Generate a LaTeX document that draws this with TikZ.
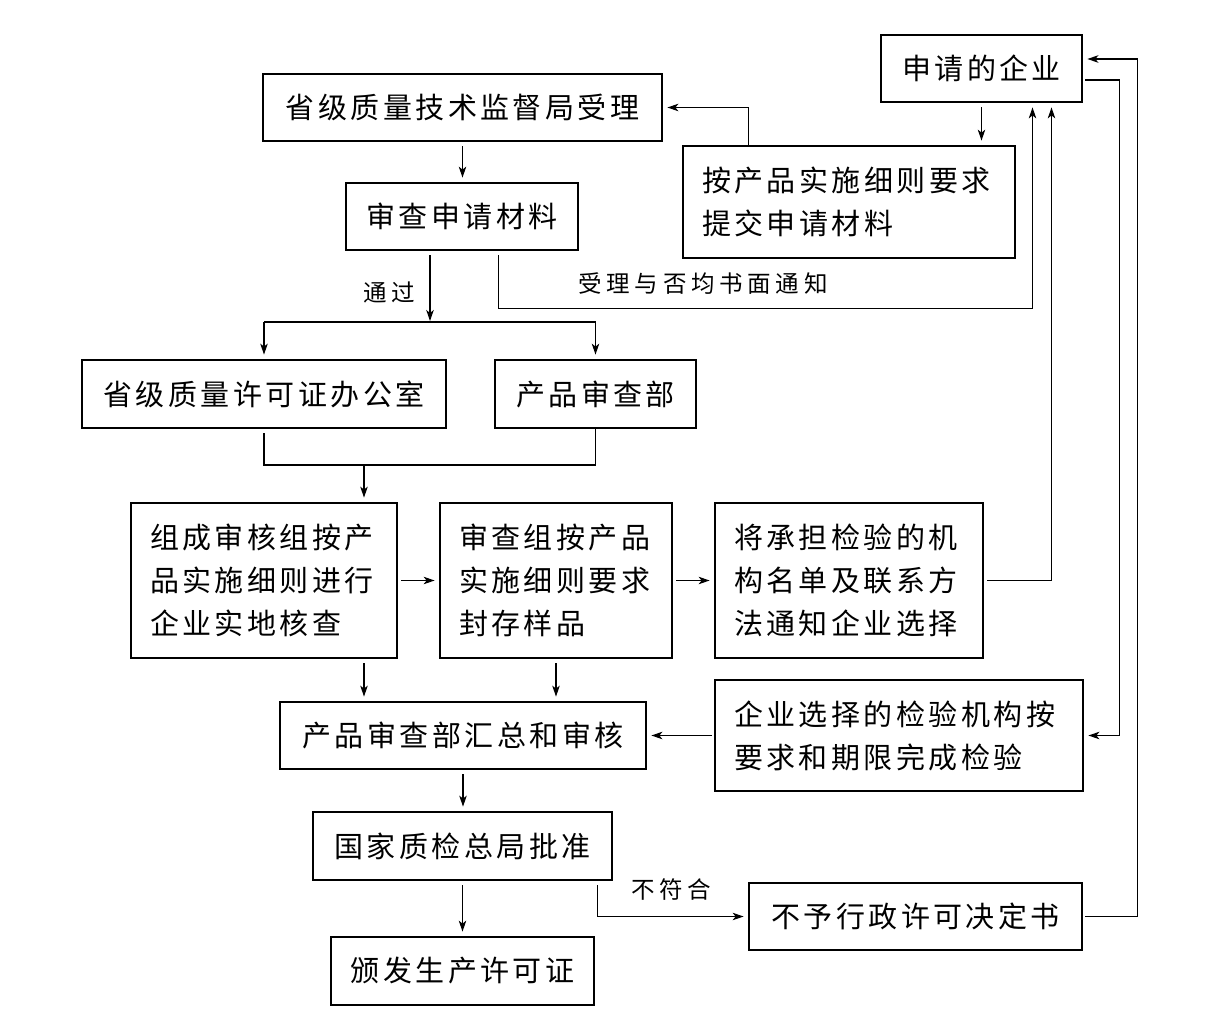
\documentclass[tikz,border=0pt]{standalone}
\usepackage{fontspec}
\newfontfamily\cjkbox[LetterSpace=12]{Noto Sans CJK SC}
\newfontfamily\cjklab[LetterSpace=20]{Noto Sans CJK SC}
\usetikzlibrary{arrows.meta,calc}
\begin{document}
\begin{tikzpicture}[x=1pt,y=-1pt,
  box/.style={draw, line width=2.8pt, inner sep=0pt, font={\cjkbox\fontsize{29pt}{43pt}\selectfont}},
  mbox/.style={box, align=left, inner xsep=19pt},
  lab/.style={font={\cjklab\fontsize{23.5pt}{26pt}\selectfont}, inner sep=0pt},
  conn/.style={line width=1.1pt},
  arr/.style={conn, -{Stealth[length=11pt,width=7.5pt,inset=3pt]}, shorten >=4pt},
]
\fill[white] (0,0) rectangle (1215,1020);
\useasboundingbox (0,0) rectangle (1215,1020);

% nodes
\node[box, minimum width=201pt, minimum height=67pt] (A) at (981.5,68.5) {申请的企业};
\node[box, minimum width=399pt, minimum height=67pt] (B) at (462.5,107.5) {省级质量技术监督局受理};
\node[mbox, text width=294pt, minimum height=112pt] (C) at (849,202) {按产品实施细则要求\\提交申请材料};
\node[box, minimum width=232pt, minimum height=67pt] (D) at (462,216.5) {审查申请材料};
\node[box, minimum width=364pt, minimum height=68pt] (E) at (264,394) {省级质量许可证办公室};
\node[box, minimum width=201pt, minimum height=68pt] (F) at (595.5,394) {产品审查部};
\node[mbox, text width=228pt, minimum height=155pt] (G) at (264,580.5) {组成审核组按产\\品实施细则进行\\企业实地核查};
\node[mbox, text width=194pt, minimum height=155pt] (H) at (556,580.5) {审查组按产品\\实施细则要求\\封存样品};
\node[mbox, text width=230pt, minimum height=155pt] (I) at (849,580.5) {将承担检验的机\\构名单及联系方\\法通知企业选择};
\node[box, minimum width=366pt, minimum height=67pt] (J) at (463,735.5) {产品审查部汇总和审核};
\node[mbox, text width=330pt, minimum height=111pt] (K) at (899,735.5) {企业选择的检验机构按\\要求和期限完成检验};
\node[box, minimum width=299pt, minimum height=68pt] (L) at (462.5,846) {国家质检总局批准};
\node[box, minimum width=333pt, minimum height=67pt] (M) at (915.5,916.5) {不予行政许可决定书};
\node[box, minimum width=263pt, minimum height=68pt] (N) at (462.5,971) {颁发生产许可证};

% labels
\node[lab] (l1) at (703,284) {受理与否均书面通知};
\node[lab] (l2) at (389,292) {通过};
\node[lab] (l3) at (671,890) {不符合};

% coordinates
\coordinate (br) at (430,322);
\coordinate (mg) at (364,465);

% connectors
\draw[arr, shorten <=4pt] (A.south) -- (A.south |- C.north);
\draw[arr] ($(C.north west)+(67,0)$) |- (B.east);
\draw[arr, shorten <=4pt] (B.south) -- (B.south |- D.north);
\draw[arr, shorten <=4pt] ($(D.south east)+(-81,0)$) -- ++(0,57) -| ($(A.south)+(51,0)$);
\draw[arr, shorten <=4pt, shorten >=1pt] (br |- D.south) -- (br);
\draw[conn] (E.north |- br) -- (F.north |- br);
\draw[arr] (E.north |- br) -- (E.north);
\draw[arr] (F.north |- br) -- (F.north);
\draw[conn, shorten <=4pt] (E.south) -- (E.south |- mg) -- (F.south |- mg) -- (F.south);
\draw[arr] (mg) -- (mg |- G.north);
\draw[arr, shorten <=3pt] (G.east) -- (H.west);
\draw[arr, shorten <=3pt] (H.east) -- (I.west);
\draw[arr, shorten <=3pt] (I.east) -| ($(A.south)+(70,0)$);
\draw[arr, shorten <=4pt] (mg |- G.south) -- (mg |- J.north);
\draw[arr, shorten <=4pt] (H.south) -- (H.south |- J.north);
\draw[arr, shorten <=2pt] (K.west) -- (K.west -| J.east);
\draw[arr, shorten <=2pt] ($(A.east)+(0,11.5)$) -- ++(36,0) |- (K.east);
\draw[arr, shorten <=2pt] (M.east) -- ++(54,0) |- ($(A.east)+(0,-9.5)$);
\draw[arr, shorten <=4pt] (J.south) -- (J.south |- L.north);
\draw[arr, shorten <=4pt] (L.south) -- (L.south |- N.north);
\draw[arr, shorten <=4pt] ($(L.south east)+(-16,0)$) |- (M.west);
\end{tikzpicture}
\end{document}
